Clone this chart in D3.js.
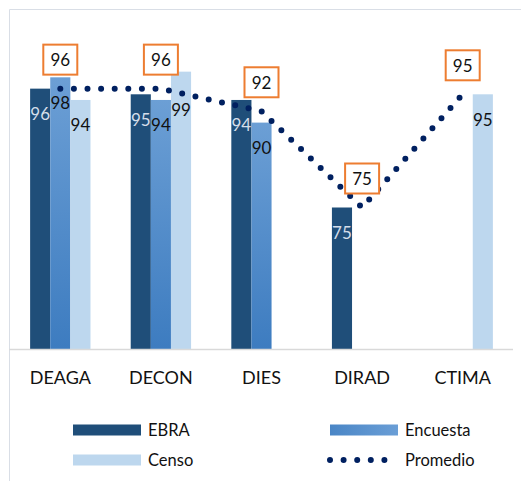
<!DOCTYPE html>
<html>
<head>
<meta charset="utf-8">
<script src="https://cdn.jsdelivr.net/npm/d3@7"></script>
<style>
  body { margin: 0; background: #fff; }
  svg { display: block; font-family: "Lato", "Open Sans", sans-serif; }
</style>
</head>
<body>
<div id="chart-area"></div>
<script>

// data
var categories = ["DEAGA", "DECON", "DIES", "DIRAD", "CTIMA"];
var seriesNames = ["EBRA", "Encuesta", "Censo"];
var ebra     = [96, 95, 94, 75, null];
var encuesta = [98, 94, 90, null, null];
var censo    = [94, 99, null, null, 95];
var promedio = [96, 96, 92, 75, 95];
var yTicks   = [50, 100];

var width = 521, height = 481;

var svg = d3.select("#chart-area")
    .append("svg")
        .attr("width", width)
        .attr("height", height);

// gradient for Encuesta
var defs = svg.append("defs");
var grad = defs.append("linearGradient")
    .attr("id", "encGrad")
    .attr("x1", 0).attr("y1", 0).attr("x2", 0).attr("y2", 1);
grad.append("stop").attr("offset", "0%").attr("stop-color", "#6C9FD5");
grad.append("stop").attr("offset", "100%").attr("stop-color", "#3D7CC0");

var gradL = defs.append("linearGradient")
    .attr("id", "encGradL")
    .attr("x1", 0).attr("y1", 0).attr("x2", 1).attr("y2", 0);
gradL.append("stop").attr("offset", "0%").attr("stop-color", "#4A86C6");
gradL.append("stop").attr("offset", "100%").attr("stop-color", "#6A9ED6");

var colors = { "EBRA": "#1F4E79", "Encuesta": "url(#encGrad)", "Censo": "#BDD7EE" };
var labelColors = { "EBRA": "#D5DEEA", "Encuesta": "#111", "Censo": "#111" };

// chart frame (partly cropped)
svg.append("path")
    .attr("d", "M9.5,481 V9.5 H521")
    .attr("fill", "none")
    .attr("stroke", "#D9DEE6")
    .attr("stroke-width", 1);

// Scales
var x = d3.scaleBand()
    .domain(categories)
    .range([10, 513])
    .paddingInner(0.4)
    .paddingOuter(0.2);

var xSub = d3.scaleBand()
    .domain(seriesNames)
    .range([0, x.bandwidth()]);

var y = d3.scaleLinear()
    .domain(d3.extent(yTicks))
    .range([349, 66]);

var data = [];
categories.forEach(function(c, i) {
    data.push({ cat: c, s: "EBRA", v: ebra[i] });
    data.push({ cat: c, s: "Encuesta", v: encuesta[i] });
    data.push({ cat: c, s: "Censo", v: censo[i] });
});
data = data.filter(function(d) { return d.v != null; });

// Bars
svg.selectAll("rect.bar")
    .data(data)
    .enter()
    .append("rect")
        .attr("class", "bar")
        .attr("x", function(d){ return x(d.cat) + xSub(d.s); })
        .attr("y", function(d){ return y(d.v); })
        .attr("width", xSub.bandwidth())
        .attr("height", function(d){ return y(50) - y(d.v); })
        .attr("fill", function(d){ return colors[d.s]; });

// baseline
svg.append("line")
    .attr("x1", 9).attr("x2", 513)
    .attr("y1", y(50) + 0.5).attr("y2", y(50) + 0.5)
    .attr("stroke", "#D9D9D9")
    .attr("stroke-width", 1.5);

// Bar labels (the DECON Censo label was moved down in the original)
svg.selectAll("text.barlabel")
    .data(data)
    .enter()
    .append("text")
        .attr("class", "barlabel")
        .attr("x", function(d){ return x(d.cat) + xSub(d.s) + xSub.bandwidth() / 2; })
        .attr("y", function(d){
            var off = (d.cat == "DECON" && d.s == "Censo") ? 38 : 25;
            return y(d.v) + off;
        })
        .attr("text-anchor", "middle")
        .attr("dominant-baseline", "central")
        .attr("font-size", "17px")
        .attr("fill", function(d){ return labelColors[d.s]; })
        .text(function(d){ return d.v; });

// X labels
svg.selectAll("text.cat")
    .data(categories)
    .enter()
    .append("text")
        .attr("class", "cat")
        .attr("x", function(d){ return x(d) + x.bandwidth() / 2; })
        .attr("y", 377)
        .attr("text-anchor", "middle")
        .attr("dominant-baseline", "central")
        .attr("font-size", "18px")
        .attr("fill", "#111")
        .text(function(d){ return d; });

// Promedio dotted line
var line = d3.line()
    .x(function(d, i){ return x(categories[i]) + x.bandwidth() / 2; })
    .y(function(d){ return y(d); });

svg.append("path")
    .datum(promedio)
    .attr("d", line)
    .attr("fill", "none")
    .attr("stroke", "#002060")
    .attr("stroke-width", 6)
    .attr("stroke-linecap", "round")
    .attr("stroke-dasharray", "0,13.6");

// Promedio label boxes
var boxes = svg.selectAll("g.pbox")
    .data(promedio)
    .enter()
    .append("g")
        .attr("class", "pbox")
        .attr("transform", function(d, i){
            return "translate(" + (x(categories[i]) + x.bandwidth() / 2) + "," + (y(d) - 29) + ")";
        });

boxes.append("rect")
    .attr("x", -17).attr("y", -15)
    .attr("width", 34).attr("height", 30)
    .attr("fill", "#fff")
    .attr("stroke", "#ED7D31")
    .attr("stroke-width", 2);

boxes.append("text")
    .attr("text-anchor", "middle")
    .attr("dominant-baseline", "central")
    .attr("font-size", "17px")
    .attr("fill", "#111")
    .text(function(d){ return d; });

// Legend
var legendItems = [
    { name: "EBRA", x: 73, y: 430, type: "rect", fill: "#1F4E79" },
    { name: "Encuesta", x: 330, y: 430, type: "rect", fill: "url(#encGradL)" },
    { name: "Censo", x: 73, y: 460, type: "rect", fill: "#BDD7EE" },
    { name: "Promedio", x: 330, y: 460, type: "dots" }
];

var leg = svg.selectAll("g.legend")
    .data(legendItems)
    .enter()
    .append("g")
        .attr("class", "legend")
        .attr("transform", function(d){ return "translate(" + d.x + "," + d.y + ")"; });

leg.filter(function(d){ return d.type == "rect"; })
    .append("rect")
        .attr("x", 0).attr("y", -5.5)
        .attr("width", 68).attr("height", 11)
        .attr("fill", function(d){ return d.fill; });

leg.filter(function(d){ return d.type == "dots"; })
    .append("line")
        .attr("x1", 0).attr("x2", 55)
        .attr("y1", 0).attr("y2", 0)
        .attr("stroke", "#002060")
        .attr("stroke-width", 6)
        .attr("stroke-linecap", "round")
        .attr("stroke-dasharray", "0,13.6");

leg.append("text")
    .attr("x", 75)
    .attr("y", 0)
    .attr("dominant-baseline", "central")
    .attr("font-size", "16.5px")
    .attr("fill", "#111")
    .text(function(d){ return d.name; });

</script>
</body>
</html>
